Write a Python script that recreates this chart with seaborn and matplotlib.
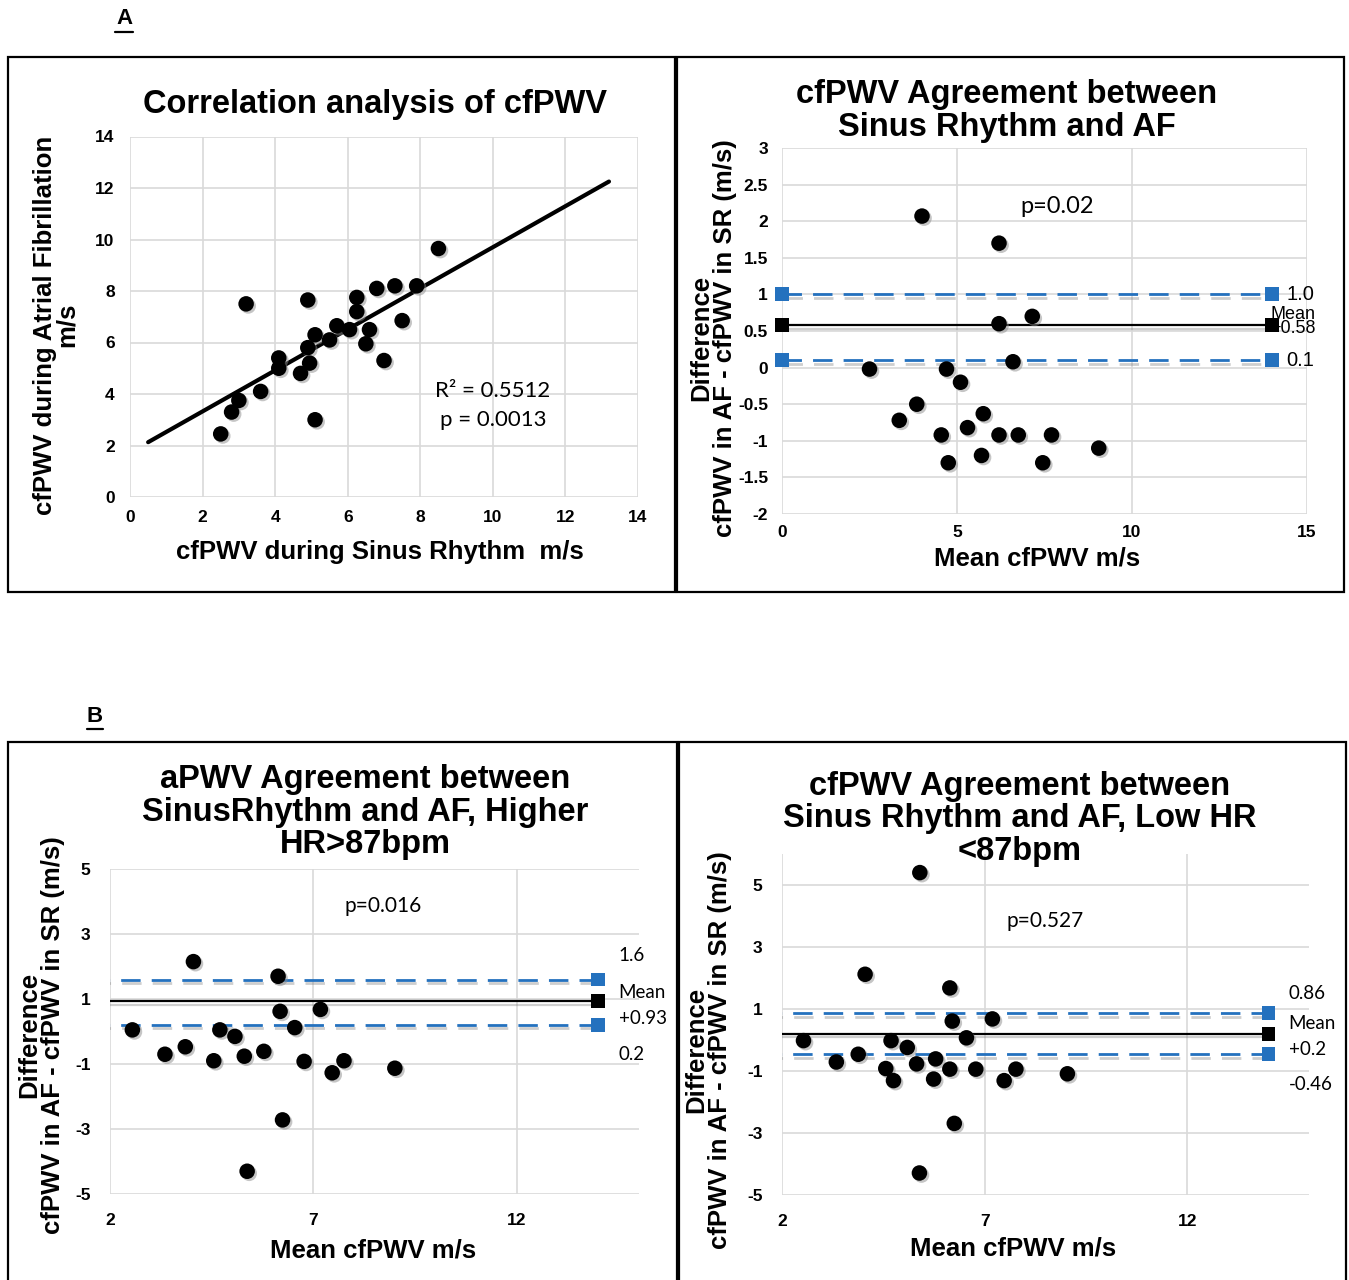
import matplotlib
matplotlib.use("Agg")
import matplotlib.pyplot as plt
import matplotlib.patheffects as pe
from matplotlib.lines import Line2D
from matplotlib.patches import Rectangle
import numpy as np
import pandas as pd
import seaborn as sns

# ---------------------------------------------------------------- data
# A: cfPWV during sinus rhythm vs during atrial fibrillation (m/s)
corr_sr = [2.5, 2.8, 3.0, 3.2, 3.6, 4.1, 4.1, 4.7, 4.9, 4.9, 4.95, 5.1, 5.1,
           5.5, 5.7, 6.05, 6.25, 6.25, 6.6, 6.5, 6.8, 7.0, 7.3, 7.5, 7.9, 8.5]
corr_af = [2.45, 3.3, 3.75, 7.5, 4.1, 5.4, 5.0, 4.8, 7.65, 5.8, 5.2, 6.3, 3.0,
           6.1, 6.65, 6.5, 7.75, 7.2, 6.5, 5.95, 8.1, 5.3, 8.2, 6.85, 8.2, 9.65]
trend_x = [0.5, 13.2]          # extent of the fitted line
trend_slope = 0.797
trend_intercept = 1.73
corr_r2 = "R² = 0.5512"
corr_p = "p = 0.0013"

# A: Bland-Altman, all patients
ba_all_mean = [4.0, 6.2, 6.2, 7.15, 6.6, 2.5, 4.7, 5.1, 3.85, 3.35, 5.75, 4.55,
               5.3, 6.2, 6.75, 7.7, 9.05, 4.75, 5.7, 7.45]
ba_all_diff = [2.07, 1.7, 0.6, 0.7, 0.08, -0.02, -0.02, -0.2, -0.5, -0.72, -0.63,
               -0.92, -0.82, -0.92, -0.92, -0.92, -1.1, -1.3, -1.2, -1.3]
ba_all_limits = [1.0, 0.58, 0.1]          # upper, mean, lower
ba_all_p = "p=0.02"

# B: Bland-Altman, higher heart rate (>87 bpm)
ba_high_mean = [2.55, 3.35, 3.85, 4.05, 4.55, 4.7, 5.07, 5.3, 5.37, 5.78, 6.13,
                6.18, 6.24, 6.54, 6.77, 7.17, 7.46, 7.75, 9.0]
ba_high_diff = [0.05, -0.7, -0.47, 2.15, -0.9, 0.05, -0.15, -0.76, -4.3, -0.61,
                1.7, 0.62, -2.72, 0.12, -0.92, 0.68, -1.27, -0.9, -1.13]
ba_high_limits = [1.6, 0.93, 0.2]
ba_high_p = "p=0.016"

# B: Bland-Altman, low heart rate (<87 bpm)
ba_low_mean = [5.4, 4.05, 6.14, 6.2, 7.19, 2.53, 4.69, 6.55, 5.09, 3.34, 3.88,
               5.79, 5.32, 4.56, 6.14, 6.78, 7.77, 4.75, 5.74, 7.48, 9.04, 6.25, 5.39]
ba_low_diff = [5.4, 2.12, 1.68, 0.61, 0.68, -0.02, -0.02, 0.07, -0.24, -0.71, -0.46,
               -0.61, -0.77, -0.92, -0.94, -0.94, -0.94, -1.31, -1.26, -1.31, -1.09,
               -2.69, -4.29]
ba_low_limits = [0.86, 0.2, -0.46]
ba_low_p = "p=0.527"

limit_x = [0, 14]              # limit-of-agreement series span

# ---------------------------------------------------------------- style
sns.set_theme(style="white")
plt.rcParams["font.family"] = ["Liberation Sans", "DejaVu Sans"]
plt.rcParams.update({
    "axes.facecolor": "white", "figure.facecolor": "white",
    "text.color": "black", "axes.labelcolor": "black",
    "xtick.color": "black", "ytick.color": "black",
    "axes.unicode_minus": False,
})

W, H = 1349, 1280
fig = plt.figure(figsize=(W / 100, H / 100), dpi=100)

BLUE = "#2471be"
GRID = "#d9d9d9"
CAL = ["Lato", "DejaVu Sans"]
TITLE_SIZE = 23.5
LABEL_SIZE = 18.5


def fx(px):
    return px / W


def fy(py):
    return 1 - py / H


def box(x0, y0, x1, y1):
    fig.patches.append(Rectangle((fx(x0), fy(y1)), fx(x1) - fx(x0), fy(y0) - fy(y1),
                                 transform=fig.transFigure, fill=False,
                                 edgecolor="black", linewidth=1.6, zorder=0))


def make_axes(left, right, top, bottom, xpad, ypad):
    ax = fig.add_axes([fx(left), fy(bottom), fx(right) - fx(left), fy(top) - fy(bottom)])
    for s in ax.spines.values():
        s.set_visible(False)
    ax.grid(True, color=GRID, linewidth=1.2)
    ax.set_axisbelow(True)
    ax.tick_params(length=0, labelsize=12.5)
    ax.tick_params(axis="x", pad=xpad)
    ax.tick_params(axis="y", pad=ypad)
    return ax


def bold_ticks(ax):
    for lab in ax.get_xticklabels() + ax.get_yticklabels():
        lab.set_fontweight("bold")


dot_shadow = [pe.SimplePatchShadow(offset=(1.5, -1.5), shadow_rgbFace="0.55", alpha=0.5),
              pe.Normal()]


def dots(ax, x, y):
    sns.scatterplot(x=x, y=y, ax=ax, color="black", s=125, edgecolor="none",
                    zorder=5, path_effects=dot_shadow, legend=False)


def limits(ax, vals, clip):
    upper, mean, lower = vals
    df = pd.DataFrame({"x": limit_x * 3,
                       "y": [upper] * 2 + [lower] * 2 + [mean] * 2,
                       "kind": ["upper"] * 2 + ["lower"] * 2 + ["mean"] * 2})
    for kind, color, ls, lw in [("upper", BLUE, (0, (7, 4)), 2.0),
                                ("lower", BLUE, (0, (7, 4)), 2.0),
                                ("mean", "black", "-", 1.6)]:
        sub = df[df["kind"] == kind]
        eff = [pe.SimpleLineShadow(offset=(1, -2.5), shadow_color="0.45", alpha=0.35),
               pe.Normal()]
        sns.lineplot(data=sub, x="x", y="y", ax=ax, color=color, linestyle=ls,
                     linewidth=lw, marker="s", markersize=10, markeredgewidth=0,
                     markerfacecolor=color, zorder=4, path_effects=eff,
                     clip_on=clip)


def ylabel2(x, y):
    fig.text(fx(x), fy(y), "Difference\ncfPWV in AF - cfPWV in SR (m/s)",
             rotation=90, ha="center", va="center", multialignment="center",
             fontsize=LABEL_SIZE, fontweight="bold", linespacing=0.95)


# ---------------------------------------------------------------- panel boxes
box(8, 57, 675, 592)
box(677, 57, 1344, 592)
box(8, 742, 677, 1300)
box(679, 742, 1346, 1300)

# panel letters, underlined
for letter, px, py, w in [("A", 124, 19, 18), ("B", 95, 716, 16)]:
    fig.text(fx(px), fy(py), letter, ha="center", va="center",
             fontsize=16, fontweight="bold")
    fig.add_artist(Line2D([fx(px - w / 2), fx(px + w / 2)], [fy(py + 13), fy(py + 13)],
                          color="black", linewidth=1.6, transform=fig.transFigure))

# ---------------------------------------------------------------- A1 correlation
ax1 = make_axes(130, 638, 136.5, 497, xpad=9, ypad=11)
ax1.set_xlim(0, 14)
ax1.set_ylim(0, 14)
ax1.set_xticks(range(0, 15, 2))
ax1.set_yticks(range(0, 15, 2))
tx = np.array(trend_x)
sns.lineplot(x=tx, y=trend_slope * tx + trend_intercept, ax=ax1, color="black",
             linewidth=3, zorder=3)
dots(ax1, corr_sr, corr_af)
bold_ticks(ax1)
ax1.set_xlabel("")
ax1.set_ylabel("")
fig.text(fx(375), fy(104), "Correlation analysis of cfPWV", ha="center", va="center",
         fontsize=TITLE_SIZE, fontweight="bold")
fig.text(fx(380), fy(552), "cfPWV during Sinus Rhythm  m/s", ha="center", va="center",
         fontsize=LABEL_SIZE, fontweight="bold")
fig.text(fx(56), fy(325), "cfPWV during Atrial Fibrillation\nm/s", rotation=90,
         ha="center", va="center", multialignment="center", fontsize=LABEL_SIZE,
         fontweight="bold", linespacing=0.9)
ax1.text(10.0, 4.1, corr_r2, ha="center", va="center", fontsize=16, family=CAL)
ax1.text(10.0, 3.0, corr_p, ha="center", va="center", fontsize=16, family=CAL)

# ---------------------------------------------------------------- A2 Bland-Altman (all)
ax2 = make_axes(782, 1307, 148, 514, xpad=8, ypad=10)
ax2.set_xlim(0, 15)
ax2.set_ylim(-2, 3)
ax2.set_xticks([0, 5, 10, 15])
ax2.set_yticks(np.arange(-2, 3.01, 0.5))
ax2.set_yticklabels(["-2", "-1.5", "-1", "-0.5", "0", "0.5", "1", "1.5", "2", "2.5", "3"])
limits(ax2, ba_all_limits, clip=False)
dots(ax2, ba_all_mean, ba_all_diff)
bold_ticks(ax2)
ax2.set_xlabel("")
ax2.set_ylabel("")
fig.text(fx(1007), fy(111), "cfPWV Agreement between\nSinus Rhythm and AF", ha="center",
         va="center", fontsize=TITLE_SIZE, fontweight="bold", linespacing=1.1)
fig.text(fx(1037), fy(558), "Mean cfPWV m/s", ha="center", va="center",
         fontsize=LABEL_SIZE, fontweight="bold")
ylabel2(713, 338)
ax2.text(7.85, 2.2, ba_all_p, ha="center", va="center", fontsize=17, family=CAL)
ax2.text(14.4, ba_all_limits[0], "1.0", ha="left", va="center", fontsize=14.5)
ax2.text(14.4, ba_all_limits[2], "0.1", ha="left", va="center", fontsize=14.5)
ax2.text(13.95, ba_all_limits[1] + 0.05, "Mean\n+0.58", ha="left", va="center",
         fontsize=13, linespacing=0.8, clip_on=False)

# ---------------------------------------------------------------- B1 Bland-Altman (HR > 87)
ax3 = make_axes(110, 639, 869, 1194, xpad=14, ypad=14)
ax3.set_xlim(2, 15)
ax3.set_ylim(-5, 5)
ax3.set_xticks([2, 7, 12])
ax3.set_yticks([-5, -3, -1, 1, 3, 5])
limits(ax3, ba_high_limits, clip=True)
dots(ax3, ba_high_mean, ba_high_diff)
bold_ticks(ax3)
ax3.set_xlabel("")
ax3.set_ylabel("")
fig.text(fx(365), fy(812), "aPWV Agreement between\nSinusRhythm and AF, Higher\nHR>87bpm",
         ha="center", va="center", fontsize=TITLE_SIZE, fontweight="bold", linespacing=1.05)
fig.text(fx(373), fy(1250), "Mean cfPWV m/s", ha="center", va="center",
         fontsize=LABEL_SIZE, fontweight="bold")
ylabel2(41, 1035)
ax3.text(8.7, 3.85, ba_high_p, ha="center", va="center", fontsize=15, family=CAL)
for txt, yy in [("1.6", 2.35), ("Mean", 1.2), ("+0.93", 0.4), ("0.2", -0.7)]:
    ax3.text(14.5, yy, txt, ha="left", va="center", fontsize=13.5, family=CAL, clip_on=False)

# ---------------------------------------------------------------- B2 Bland-Altman (HR < 87)
ax4 = make_axes(782, 1309, 854, 1195, xpad=14, ypad=14)
ax4.set_xlim(2, 15)
ax4.set_ylim(-5, 6)
ax4.set_xticks([2, 7, 12])
ax4.set_yticks([-5, -3, -1, 1, 3, 5])
limits(ax4, ba_low_limits, clip=True)
dots(ax4, ba_low_mean, ba_low_diff)
bold_ticks(ax4)
ax4.set_xlabel("")
ax4.set_ylabel("")
fig.text(fx(1020), fy(819), "cfPWV Agreement between\nSinus Rhythm and AF, Low HR\n<87bpm",
         ha="center", va="center", fontsize=TITLE_SIZE, fontweight="bold", linespacing=1.05)
fig.text(fx(1013), fy(1248), "Mean cfPWV m/s", ha="center", va="center",
         fontsize=LABEL_SIZE, fontweight="bold")
ylabel2(708, 1050)
ax4.text(8.5, 3.85, ba_low_p, ha="center", va="center", fontsize=15, family=CAL)
for txt, yy in [("0.86", 1.5), ("Mean", 0.52), ("+0.2", -0.3), ("-0.46", -1.42)]:
    ax4.text(14.5, yy, txt, ha="left", va="center", fontsize=13.5, family=CAL, clip_on=False)

fig.savefig("out.png", dpi=100, facecolor="white")
